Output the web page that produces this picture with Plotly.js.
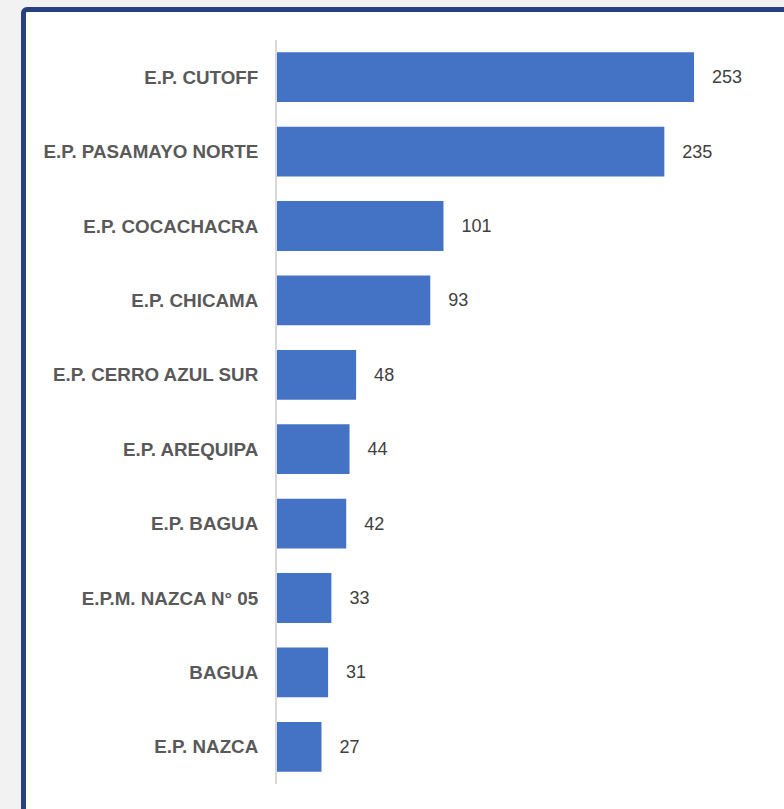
<!DOCTYPE html>
<html>
<head>
<meta charset="utf-8">
<script src="https://cdn.plot.ly/plotly-3.0.1.min.js"></script>
<style>
  html, body { margin:0; padding:0; width:784px; height:809px; overflow:hidden; background:#f2f2f2; }
  #panel { position:absolute; left:21px; top:7px; width:820px; height:860px; box-sizing:border-box;
           border:5px solid #28407f; border-radius:6px; background:#ffffff; }
  #chart { position:absolute; left:0; top:0; width:784px; height:809px; }
</style>
</head>
<body>
<div id="panel"></div>
<div id="chart"></div>
<script>
const categories = ["E.P. CUTOFF", "E.P. PASAMAYO NORTE", "E.P. COCACHACRA", "E.P. CHICAMA",
  "E.P. CERRO AZUL SUR", "E.P. AREQUIPA", "E.P. BAGUA", "E.P.M. NAZCA N° 05", "BAGUA", "E.P. NAZCA"];
const values = [253, 235, 101, 93, 48, 44, 42, 33, 31, 27];

const trace = {
  type: 'bar',
  orientation: 'h',
  x: values,
  y: categories,
  marker: { color: '#4472c4' },
  text: values.map(v => '\u00a0\u00a0\u00a0' + v),
  textposition: 'outside',
  textfont: { family: 'Liberation Sans, Arial, sans-serif', size: 18, color: '#404040' },
  cliponaxis: false,
  hoverinfo: 'none'
};

const layout = {
  width: 784, height: 809,
  margin: { l: 277, r: 0, t: 40, b: 25 },
  paper_bgcolor: 'rgba(0,0,0,0)',
  plot_bgcolor: 'rgba(0,0,0,0)',
  bargap: 0.33,
  showlegend: false,
  xaxis: { range: [0, 307.6], visible: false, showgrid: false, zeroline: false, fixedrange: true },
  yaxis: {
    type: 'category',
    categoryorder: 'array', categoryarray: categories,
    range: [9.5, -0.5],
    showline: true, linecolor: '#d9d9d9', linewidth: 2,
    showgrid: false, zeroline: false, ticks: '',
    ticklabelstandoff: 13,
    tickfont: { family: 'Liberation Sans, Arial, sans-serif', size: 18.8, color: '#595959', weight: 'bold' }
  }
};

Plotly.newPlot('chart', [trace], layout, { staticPlot: true, displayModeBar: false });
</script>
</body>
</html>
